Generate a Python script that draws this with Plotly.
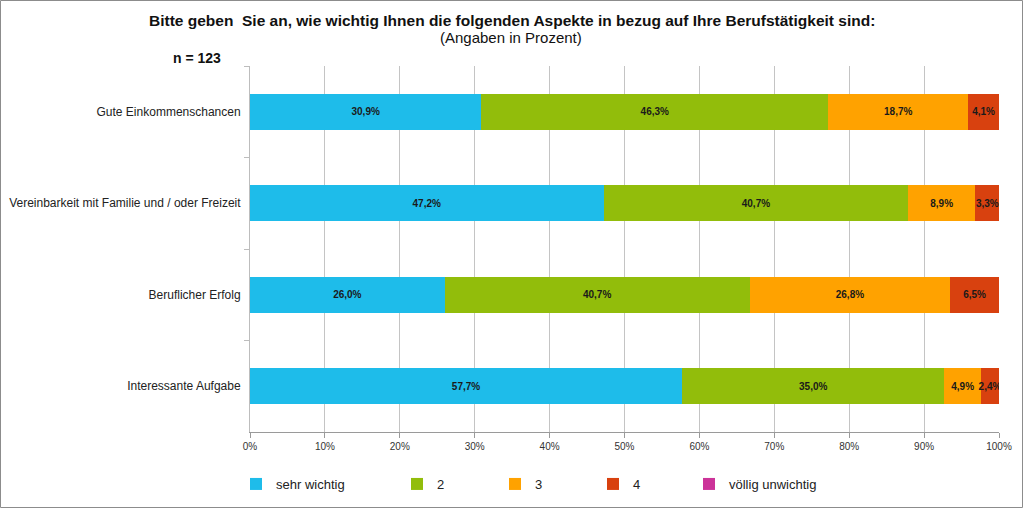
import plotly.graph_objects as go

categories = ["Gute Einkommenschancen", "Vereinbarkeit mit Familie und / oder Freizeit",
              "Beruflicher Erfolg", "Interessante Aufgabe"]
series_names = ["sehr wichtig", "2", "3", "4", "völlig unwichtig"]
sehr_wichtig = [30.9, 47.2, 26.0, 57.7]
stufe_2 = [46.3, 40.7, 40.7, 35.0]
stufe_3 = [18.7, 8.9, 26.8, 4.9]
stufe_4 = [4.1, 3.3, 6.5, 2.4]
voellig_unwichtig = [0.0, 0.0, 0.0, 0.0]
x_ticks = [0, 10, 20, 30, 40, 50, 60, 70, 80, 90, 100]
x_tick_labels = [f"{t}%" for t in x_ticks]

colors = ["#1EBCEA", "#92BD0B", "#FFA200", "#D8410F", "#CC3399"]
values = [sehr_wichtig, stufe_2, stufe_3, stufe_4, voellig_unwichtig]

W, H = 1023, 508
L, R, T, B = 250, 24, 66, 76
pw, ph = W - L - R, H - T - B

legend_x_px = [236, 397, 495, 593, 689]
legend_ids = ["legend", "legend2", "legend3", "legend4", "legend5"]

fig = go.Figure()
for i, (name, vals) in enumerate(zip(series_names, values)):
    texts = [("%.1f%%" % v).replace(".", ",") if v > 0 else "" for v in vals]
    fig.add_trace(go.Bar(
        y=categories, x=vals, name=name, orientation="h",
        marker=dict(color=colors[i], line=dict(width=0)),
        text=texts, texttemplate="%{text}", textposition="inside",
        insidetextanchor="middle", textangle=0,
        textfont=dict(family="Liberation Sans", size=10, color="#1a1a1a", weight="bold"),
        legend=legend_ids[i], hoverinfo="skip",
    ))

layout_legends = {}
for i, lid in enumerate(legend_ids):
    layout_legends[lid] = dict(
        x=legend_x_px[i] / W, xref="container", xanchor="left",
        y=(H - 484) / H, yref="container", yanchor="middle",
        orientation="h", bgcolor="rgba(0,0,0,0)",
        font=dict(family="Liberation Sans", size=13, color="#222"),
        itemwidth=30,
    )

fig.update_layout(
    width=W, height=H,
    margin=dict(l=L, r=R, t=T, b=B, autoexpand=False),
    paper_bgcolor="white", plot_bgcolor="white",
    barmode="stack", bargap=0.61,
    showlegend=True,
    uniformtext=dict(minsize=10, mode="show"),
    font=dict(family="Liberation Sans", color="#222"),
    **layout_legends,
)
fig.update_xaxes(
    range=[0, 100], tickvals=x_ticks, ticktext=x_tick_labels,
    showgrid=True, gridcolor="#C4C4C4", gridwidth=1,
    showline=True, linecolor="#9A9A9A", linewidth=1,
    ticks="outside", ticklen=5, tickcolor="#9A9A9A",
    tickfont=dict(size=10, color="#333"), zeroline=False, fixedrange=True,
    automargin=False,
)
fig.update_yaxes(
    categoryorder="array", categoryarray=categories, autorange="reversed",
    showline=True, linecolor="#BDBDBD", linewidth=1,
    ticks="outside", ticklen=5, tickcolor="#BDBDBD", tickson="boundaries",
    ticklabelstandoff=6, automargin=False,
    tickfont=dict(size=12, color="#222"), showgrid=False, fixedrange=True,
)

# title texts
fig.add_annotation(
    text="<b>Bitte geben\u00a0 Sie an, wie wichtig Ihnen die folgenden Aspekte in bezug auf Ihre Berufstätigkeit sind:</b>",
    xref="paper", yref="paper", x=(512 - L) / pw, y=(H - B - 20) / ph,
    xanchor="center", yanchor="middle", showarrow=False,
    font=dict(family="Liberation Sans", size=15.5, color="#111"),
)
fig.add_annotation(
    text="(Angaben in Prozent)",
    xref="paper", yref="paper", x=(511 - L) / pw, y=(H - B - 38) / ph,
    xanchor="center", yanchor="middle", showarrow=False,
    font=dict(family="Liberation Sans", size=15, color="#111"),
)
fig.add_annotation(
    text="<b>n = 123</b>",
    xref="paper", yref="paper", x=(197 - L) / pw, y=(H - B - 58) / ph,
    xanchor="center", yanchor="middle", showarrow=False,
    font=dict(family="Liberation Sans", size=14, color="#111"),
)

# outer border
fig.add_shape(
    type="rect", xref="paper", yref="paper",
    x0=(0.5 - L) / pw, x1=(W - 0.5 - L) / pw,
    y0=(H - B - (H - 0.5)) / ph, y1=(H - B - 0.5) / ph,
    line=dict(color="#8C8C8C", width=1), fillcolor="rgba(0,0,0,0)", layer="below",
)

fig.write_html(
    "out.html",
    config={"displayModeBar": False},
    post_script="document.body.style.margin='0';document.body.style.overflow='hidden';",
)
